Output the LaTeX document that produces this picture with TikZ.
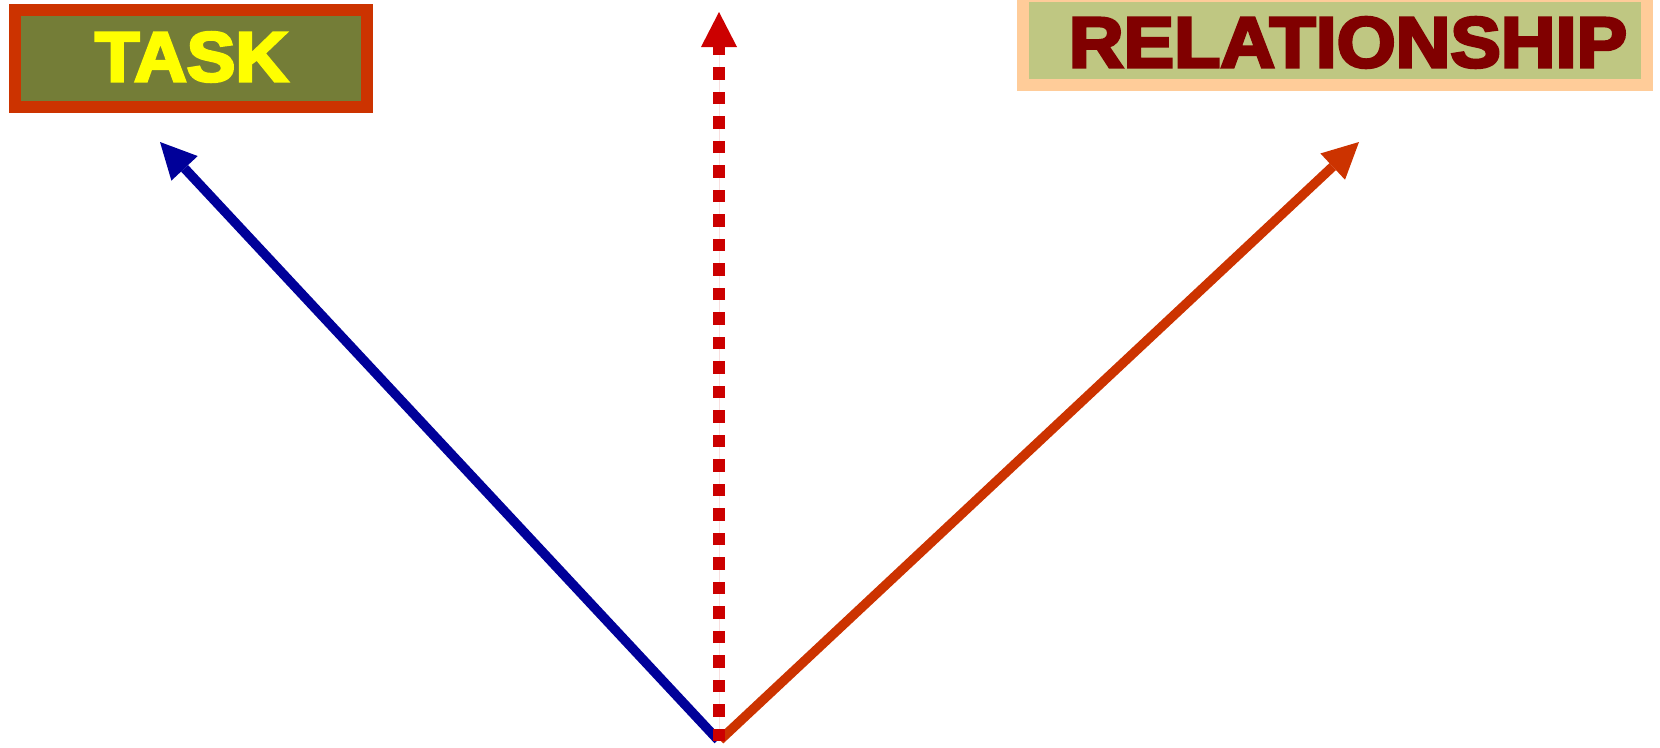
\documentclass[tikz,border=0pt]{standalone}
\usepackage{fontspec}
\newfontfamily\heavyfont{Liberation Sans}[UprightFont=* Bold, FakeBold=4]
\usetikzlibrary{arrows.meta}
\definecolor{taskfill}{RGB}{116,125,55}
\definecolor{taskborder}{RGB}{204,51,0}
\definecolor{taskink}{RGB}{255,255,0}
\definecolor{relfill}{RGB}{191,199,130}
\definecolor{relborder}{RGB}{255,204,153}
\definecolor{relink}{RGB}{128,0,0}
\definecolor{bluearrow}{RGB}{0,0,153}
\definecolor{orangearrow}{RGB}{204,51,0}
\definecolor{redarrow}{RGB}{204,0,0}
\tikzset{
  taskbox/.style={draw=taskborder, fill=taskfill, line width=12pt, minimum width=352pt, minimum height=96.7pt, inner sep=0pt, outer sep=0pt},
  relbox/.style={draw=relborder, fill=relfill, line width=12pt, minimum width=624pt, minimum height=89pt, inner sep=0pt, outer sep=0pt},
  tasktext/.style={text=taskink, inner sep=0pt, font=\heavyfont},
  reltext/.style={text=relink, inner sep=0pt, font=\heavyfont},
  solidarrow/.style={line width=9.5pt, line cap=butt, -{Triangle[length=36pt, width=36pt, line width=0pt]}},
  dotarrow/.style={draw=redarrow, line width=12pt, line cap=butt, dash pattern=on 12.25pt off 12.25pt, -{Triangle[length=35pt, width=36pt, line width=0pt]}}
}
\begin{document}
\begin{tikzpicture}[x=1pt, y=-1pt]
\useasboundingbox (0,0) rectangle (1660,747);
\clip (0,0) rectangle (1660,747);
\node[taskbox] (task) at (191,58.7) {};
\node[tasktext] (tasklabel) at (191.5,57) {\resizebox{193pt}{49pt}{TASK}};
\node[relbox] (rel) at (1335,40.5) {};
\node[reltext] (rellabel) at (1348,42.5) {\resizebox{558pt}{50pt}{RELATIONSHIP}};
\coordinate (oblue) at (718,740);
\coordinate (oorange) at (720,740);
\coordinate (ored) at (719,741);
\coordinate (tblue) at (160,142);
\coordinate (torange) at (1359,142);
\coordinate (tred) at (719,12);
\draw[solidarrow, draw=bluearrow, fill=bluearrow] (oblue) -- (tblue);
\draw[solidarrow, draw=orangearrow, fill=orangearrow] (oorange) -- (torange);
\draw[dotarrow, fill=redarrow] (ored) -- (tred);
\end{tikzpicture}
\end{document}
